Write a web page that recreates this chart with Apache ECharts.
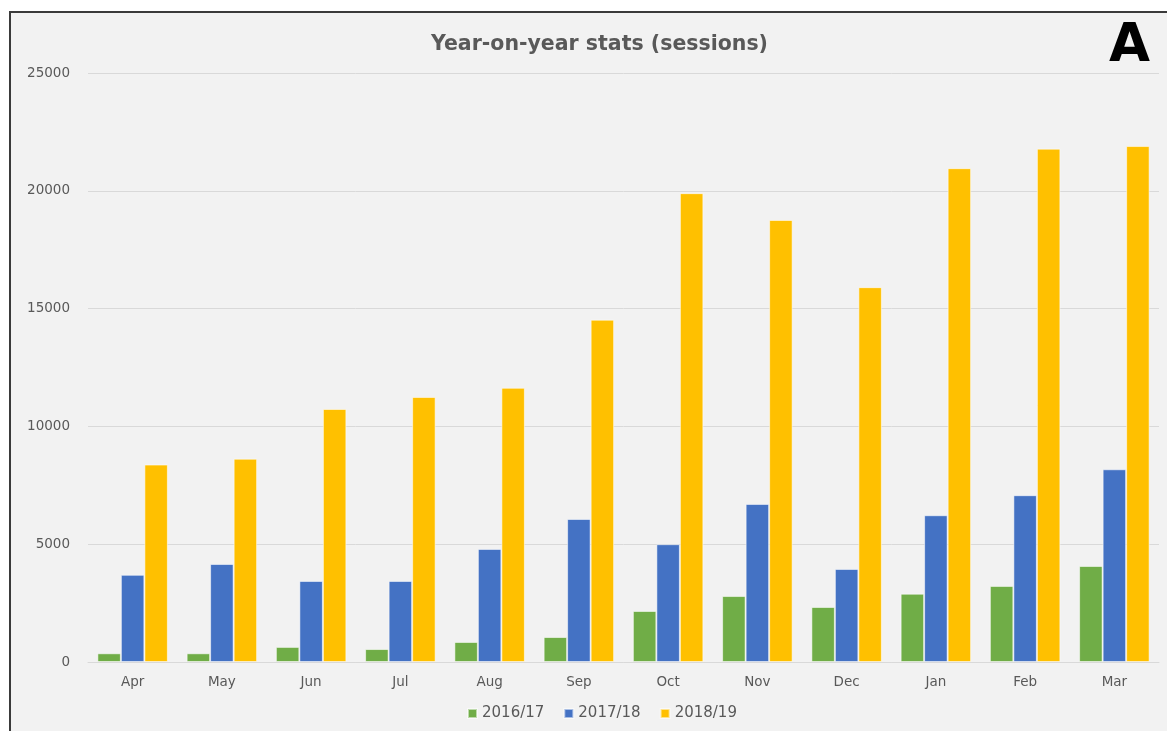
<!DOCTYPE html>
<html><head><meta charset="utf-8">
<script src="https://cdn.jsdelivr.net/npm/echarts@6/dist/echarts.min.js"></script>
<style>
html,body{margin:0;padding:0;background:#fff;width:1167px;height:731px;overflow:hidden;}
#frame{position:absolute;left:9px;top:11px;width:1170px;height:730px;border:2px solid #3a3a3a;background:#f2f2f2;}
#chart{position:absolute;left:0;top:0;width:1167px;height:731px;}
#tag{position:absolute;left:1109px;top:11px;font:bold 53px "DejaVu Sans",sans-serif;color:#000;line-height:64px;}
</style></head>
<body>
<div id="frame"></div>
<div id="chart"></div>
<div id="tag">A</div>
<script>
const categories = ['Apr','May','Jun','Jul','Aug','Sep','Oct','Nov','Dec','Jan','Feb','Mar'];
const seriesNames = ['2016/17','2017/18','2018/19'];
const s2016 = [370,370,640,550,850,1060,2165,2800,2335,2900,3230,4075];
const s2017 = [3700,4160,3440,3440,4800,6070,5000,6710,3950,6230,7080,8180];
const s2018 = [8380,8630,10740,11250,11640,14530,19900,18760,15910,20960,21790,21900];
const colors = ['#70ad47','#4472c4','#ffc000'];

const chart = echarts.init(document.getElementById('chart'), null, {renderer:'canvas'});
const font = '"DejaVu Sans",sans-serif';
chart.setOption({
  backgroundColor:'transparent',
  animation:false,
  title:{text:'Year-on-year stats (sessions)',left:426,top:29,
    textStyle:{fontFamily:font,fontSize:20.5,fontWeight:'bold',color:'#595959'}},
  legend:{bottom:5,left:462,icon:'rect',itemWidth:9,itemHeight:9,itemGap:19,
    textStyle:{fontFamily:font,fontSize:15,color:'#595959'},
    data:seriesNames},
  grid:{left:88,right:8,top:73,bottom:69},
  xAxis:{type:'category',data:categories,
    axisLine:{lineStyle:{color:'#d9d9d9',width:1}},
    axisTick:{show:false},
    axisLabel:{fontFamily:font,fontSize:13.5,color:'#595959',margin:13}},
  yAxis:{type:'value',min:0,max:25000,interval:5000,
    axisLine:{show:false},axisTick:{show:false},
    splitLine:{lineStyle:{color:'#d9d9d9',width:1}},
    axisLabel:{fontFamily:font,fontSize:13.5,color:'#595959',margin:18,formatter:v=>String(v)}},
  series:[s2016,s2017,s2018].map((d,i)=>({
    name:seriesNames[i],type:'bar',data:d,
    barGap:'0%',barCategoryGap:'21%',
    itemStyle:{color:colors[i],borderColor:'rgba(255,255,255,0.55)',borderWidth:1}
  }))
});
</script>
</body></html>
